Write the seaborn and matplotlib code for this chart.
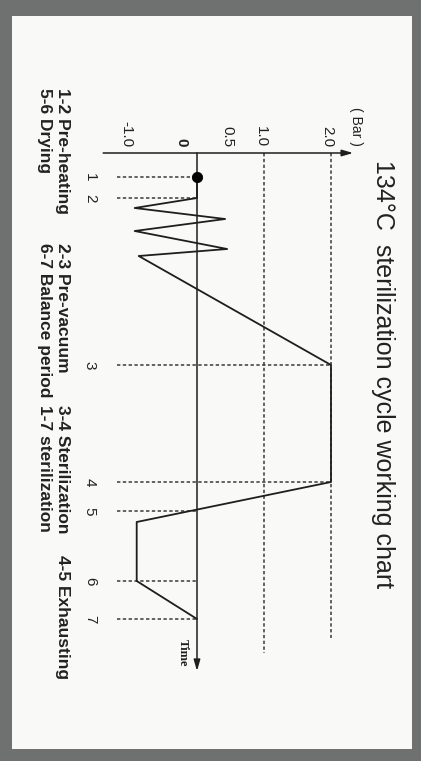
import matplotlib
matplotlib.use("Agg")
import matplotlib.pyplot as plt
import seaborn as sns
import pandas as pd
from matplotlib.patches import Rectangle

sns.set_theme(style="white")
plt.rcParams["font.family"] = ["Liberation Sans", "DejaVu Sans"]

# pressure (bar) along the cycle, time in arbitrary units
cycle_time = [2.4, 4.5, 5.5, 6.6, 7.8, 9.6, 10.3, 21.2, 32.9, 36.9, 42.8, 46.6]
cycle_pressure = [0.0, 0.0, -0.93, 0.42, -0.93, 0.45, -0.87, 2.0, 2.0, -0.9, -0.9, 0.0]

# numbered stage markers
stage_labels = ["1", "2", "3", "4", "5", "6", "7"]
stage_time = [2.4, 4.5, 21.2, 32.9, 35.8, 42.8, 46.6]
stage_pressure = [0.0, 0.0, 2.0, 2.0, 0.0, 0.0, 0.0]

tick_values = [2.0, 1.0, 0.5, 0.0, -1.0]
tick_labels = ["2.0", "1.0", "0.5", "0", "-1.0"]

ref_pressure = [1.0, 2.0]
ref_end_time = [50.0, 48.5]

legend_row1 = ["1-2 Pre-heating", "2-3 Pre-vacuum", "3-4 Sterilization", "4-5 Exhausting"]
legend_row2 = ["5-6 Drying", "6-7 Balance period", "1-7 sterilization"]

df = pd.DataFrame({"time": cycle_time, "pressure": cycle_pressure})

W, H = 421, 761
fig = plt.figure(figsize=(W / 100, H / 100), dpi=100)
fig.patch.set_facecolor("#6f7070")
ax = fig.add_axes([0, 0, 1, 1])
ax.set_facecolor("none")
ax.add_patch(Rectangle((12 / W, 1 - 749 / H), 400 / W, 733 / H,
                       transform=ax.transAxes, facecolor="#f9f9f8",
                       edgecolor="none", zorder=-10))
ax.set_xlim(-197 / 67, 224 / 67)
ax.set_ylim(60.8, -15.3)
ax.axis("off")

ink = "#1e1e1e"
dash = (0, (2.2, 1.6))

# reference lines at 1.0 and 2.0 bar
for p, t_end in zip(ref_pressure, ref_end_time):
    ax.plot([p, p], [0, t_end], color="#3a3a3a", lw=1.1, linestyle=dash)

# stage marker lines
for t, p in zip(stage_time, stage_pressure):
    ax.plot([-1.2, p], [t, t], color="#3a3a3a", lw=1.1, linestyle=dash)

# axes with arrows
ax.annotate("", xy=(2.33, 0), xytext=(-1.4, 0),
            arrowprops=dict(arrowstyle="-|>,head_length=0.55,head_width=0.16",
                            color=ink, lw=1.1, shrinkA=0, shrinkB=0))
ax.annotate("", xy=(0, 51.8), xytext=(0, 0),
            arrowprops=dict(arrowstyle="-|>,head_length=0.55,head_width=0.16",
                            color=ink, lw=1.1, shrinkA=0, shrinkB=0))

sns.lineplot(data=df, x="pressure", y="time", sort=False, estimator=None,
             color=ink, lw=1.3, ax=ax)
sns.scatterplot(x=[stage_pressure[0]], y=[stage_time[0]], s=55, color="black",
                edgecolor="black", ax=ax, zorder=5)

for v, lab in zip(tick_values, tick_labels):
    is_zero = lab == "0"
    ax.text(v - (0.24 if is_zero else 0.05), -0.6, lab, rotation=-90, ha="center",
            va="bottom", fontsize=11, color="#222222",
            fontweight="bold" if is_zero else "normal")
ax.text(2.38, -0.7, "( Bar )", rotation=-90, ha="center", va="bottom", fontsize=10,
        color="#222222")

for t, lab in zip(stage_time, stage_labels):
    ax.text(-1.6, t, lab, rotation=-90, ha="center", va="center", fontsize=11,
            color="#222222")

ax.text(-0.22, 50.0, "Time", rotation=-90, ha="center", va="center", fontsize=9,
        fontweight="bold", family=["Liberation Serif", "DejaVu Serif"], color=ink)

fig.text(383 / W, 1 - 160 / H, "134°C  sterilization cycle working chart",
         rotation=-90, ha="center", va="top", fontsize=18, color="#222222")

col_y = [88, 243, 405, 555]
for i, item in enumerate(legend_row1):
    fig.text(62 / W, 1 - col_y[i] / H, item, rotation=-90, ha="center", va="top",
             fontsize=12.5, fontweight="bold", color="#222222")
for i, item in enumerate(legend_row2):
    fig.text(44 / W, 1 - col_y[i] / H, item, rotation=-90, ha="center", va="top",
             fontsize=12.5, fontweight="bold", color="#222222")

fig.savefig("out.png", dpi=100)
